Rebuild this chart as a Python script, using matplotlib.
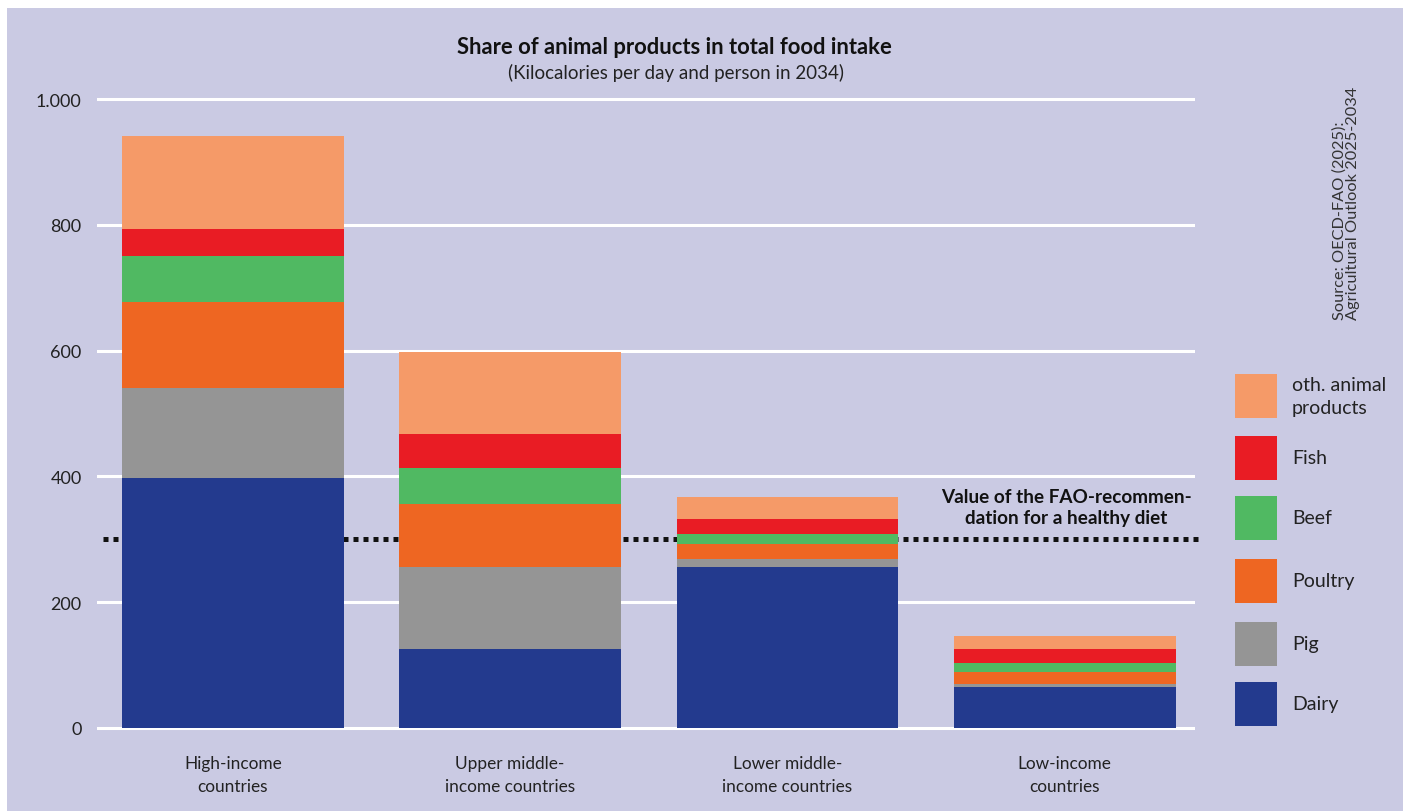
import matplotlib
matplotlib.use("Agg")
import matplotlib.pyplot as plt
from matplotlib.patches import Rectangle
import numpy as np

plt.rcParams['font.family'] = ['Lato', 'DejaVu Sans']

categories = ["High-income\ncountries", "Upper middle-\nincome countries",
              "Lower middle-\nincome countries", "Low-income\ncountries"]
series_names = ["Dairy", "Pig", "Poultry", "Beef", "Fish", "oth. animal\nproducts"]
dairy   = [398, 126, 256, 65]
pig     = [142, 130, 13, 5]
poultry = [137, 100, 23, 19]
beef    = [73, 57, 16, 14]
fish    = [43, 54, 24, 23]
other   = [148, 131, 35, 20]
series_values = [dairy, pig, poultry, beef, fish, other]
colors = ["#233a8e", "#959595", "#ee6622", "#50b962", "#e91c24", "#f59a68"]
fao_value = 300
yticks = [0, 200, 400, 600, 800, 1000]
ytick_labels = ["0", "200", "400", "600", "800", "1.000"]

W, H = 1407, 812
fig = plt.figure(figsize=(W / 100, H / 100), dpi=100, facecolor="white")
bg = "#cacae3"
fig.patches.append(Rectangle((7 / W, 0), 1396 / W, 803 / H, transform=fig.transFigure,
                             facecolor=bg, edgecolor="none", zorder=-10))

# axes: x from px 97 to 1195, y data -8..1008 maps to px 734..95
ax = fig.add_axes([97 / W, (H - 734) / H, (1195 - 97) / W, (734 - 95) / H])
ax.set_facecolor("none")
ax.set_ylim(-8, 1008)
ax.set_xlim(-0.49, 3.47)
for s in ax.spines.values():
    s.set_visible(False)

for yv in yticks:
    ax.axhline(yv, color="white", lw=2.2, zorder=0)

x = np.arange(len(categories))
ax.plot([-0.47, 3.49], [fao_value, fao_value], color="#111111", lw=3.6,
        linestyle=(0, (1, 1)), zorder=1, clip_on=False, solid_capstyle="butt",
        dash_capstyle="butt")

bottom = np.zeros(len(categories))
for vals, col, name in zip(series_values, colors, series_names):
    ax.bar(x, vals, width=0.80, bottom=bottom, color=col, zorder=2, label=name)
    bottom += np.array(vals)

ax.set_yticks(yticks)
ax.set_yticklabels(ytick_labels, fontsize=13, color="#222222")
ax.set_xticks(x)
ax.set_xticklabels(categories, fontsize=12.4, color="#222222", linespacing=1.55)
ax.tick_params(axis="y", length=0, pad=11)
ax.tick_params(axis="x", length=0, pad=16)

# title
fig.text(674 / W, 1 - 48 / H, "Share of animal products in total food intake",
         ha="center", va="center", fontsize=15.8, fontweight="bold", color="#111111")
fig.text(676 / W, 1 - 73 / H, "(Kilocalories per day and person in 2034)",
         ha="center", va="center", fontsize=13.5, color="#222222")

# annotation
ax.annotate("Value of the FAO-recommen-\ndation for a healthy diet",
            xy=(1066 / W, 1 - 508 / H), xycoords="figure fraction",
            ha="center", va="center", fontsize=13.6, fontweight="bold",
            color="#111111", linespacing=1.25)

# source
fig.text(1346 / W, 1 - 320 / H, "Source: OECD-FAO (2025):\nAgricultural Outlook 2025-2034",
         rotation=90, ha="center", va="bottom", multialignment="left",
         fontsize=11.8, color="#333333", linespacing=0.9)

# legend (manual)
leg_tops = [375, 437, 497, 560, 623, 683]
for i, (name, col) in enumerate(zip(series_names[::-1], colors[::-1])):
    top = leg_tops[i]
    fig.patches.append(Rectangle((1235 / W, 1 - (top + 44) / H), 42 / W, 44 / H,
                                 transform=fig.transFigure, facecolor=col,
                                 edgecolor="none", zorder=5))
    fig.text(1292 / W, 1 - (top + 22) / H, name, ha="left", va="center",
             fontsize=14, color="#222222", linespacing=1.45)

fig.savefig("out.png", dpi=100, facecolor="white")
